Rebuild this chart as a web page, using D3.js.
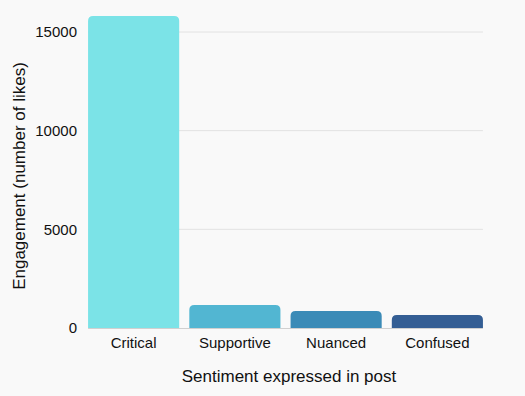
<!DOCTYPE html>
<meta charset="utf-8">
<style>
body { margin: 0; background: #f9f9f9; }
text { font-family: "Liberation Sans", Arial, sans-serif; fill: #111; }
.tick text { font-size: 15px; }
.title { font-size: 17px; }
</style>
<body>
<script src="https://d3js.org/d3.v7.min.js"></script>
<script>

var categories = ["Critical", "Supportive", "Nuanced", "Confused"];
var likes = [15810, 1165, 860, 660];
var yTicks = [0, 5000, 10000, 15000];
var colors = ["#7be3e7", "#52b6d2", "#3b8bb7", "#345e94"];

var width = 525, height = 396;
var left = 83, right = 488, bottom = 328;

var svg = d3.select("body").append("svg")
    .attr("width", width)
    .attr("height", height);

var x = d3.scaleBand()
    .domain(categories)
    .range([left, right])
    .paddingInner(0.1)
    .paddingOuter(0.05);

var y = d3.scaleLinear()
    .domain([0, 15000])
    .range([bottom, 32]);

var gridLeft = x(categories[0]),
    gridRight = x(categories[categories.length - 1]) + x.bandwidth();

// gridlines
svg.append("g").selectAll("line")
    .data(yTicks.slice(1))
  .enter().append("line")
    .attr("x1", gridLeft)
    .attr("x2", gridRight)
    .attr("y1", function(d) { return y(d); })
    .attr("y2", function(d) { return y(d); })
    .attr("stroke", "#e2e2e2")
    .attr("stroke-width", 1);

// bars with rounded top corners
var r = 5;
svg.append("g").selectAll("path")
    .data(likes)
  .enter().append("path")
    .attr("fill", function(d, i) { return colors[i]; })
    .attr("d", function(d, i) {
      var x0 = x(categories[i]), w = x.bandwidth(),
          y0 = y(d), y1 = y(0);
      return "M" + x0 + "," + y1 +
        "V" + (y0 + r) +
        "Q" + x0 + "," + y0 + " " + (x0 + r) + "," + y0 +
        "H" + (x0 + w - r) +
        "Q" + (x0 + w) + "," + y0 + " " + (x0 + w) + "," + (y0 + r) +
        "V" + y1 + "Z";
    });

// baseline
svg.append("line")
    .attr("x1", gridLeft)
    .attr("x2", gridRight)
    .attr("y1", y(0) + 0.5)
    .attr("y2", y(0) + 0.5)
    .attr("stroke", "#d0d0d0");

var xAxis = svg.append("g")
    .attr("transform", "translate(0," + bottom + ")")
    .call(d3.axisBottom(x).tickSize(0).tickPadding(9));
xAxis.select(".domain").remove();

var yAxis = svg.append("g")
    .attr("transform", "translate(" + left + ",0)")
    .call(d3.axisLeft(y).tickValues(yTicks).tickFormat(d3.format("d")).tickSize(0).tickPadding(6));
yAxis.select(".domain").remove();

svg.selectAll(".tick text").attr("fill", "#111");

svg.append("text")
    .attr("class", "title")
    .attr("x", 289)
    .attr("y", 382)
    .attr("text-anchor", "middle")
    .text("Sentiment expressed in post");

svg.append("text")
    .attr("class", "title")
    .attr("transform", "translate(25,176) rotate(-90)")
    .attr("text-anchor", "middle")
    .text("Engagement (number of likes)");

</script>
